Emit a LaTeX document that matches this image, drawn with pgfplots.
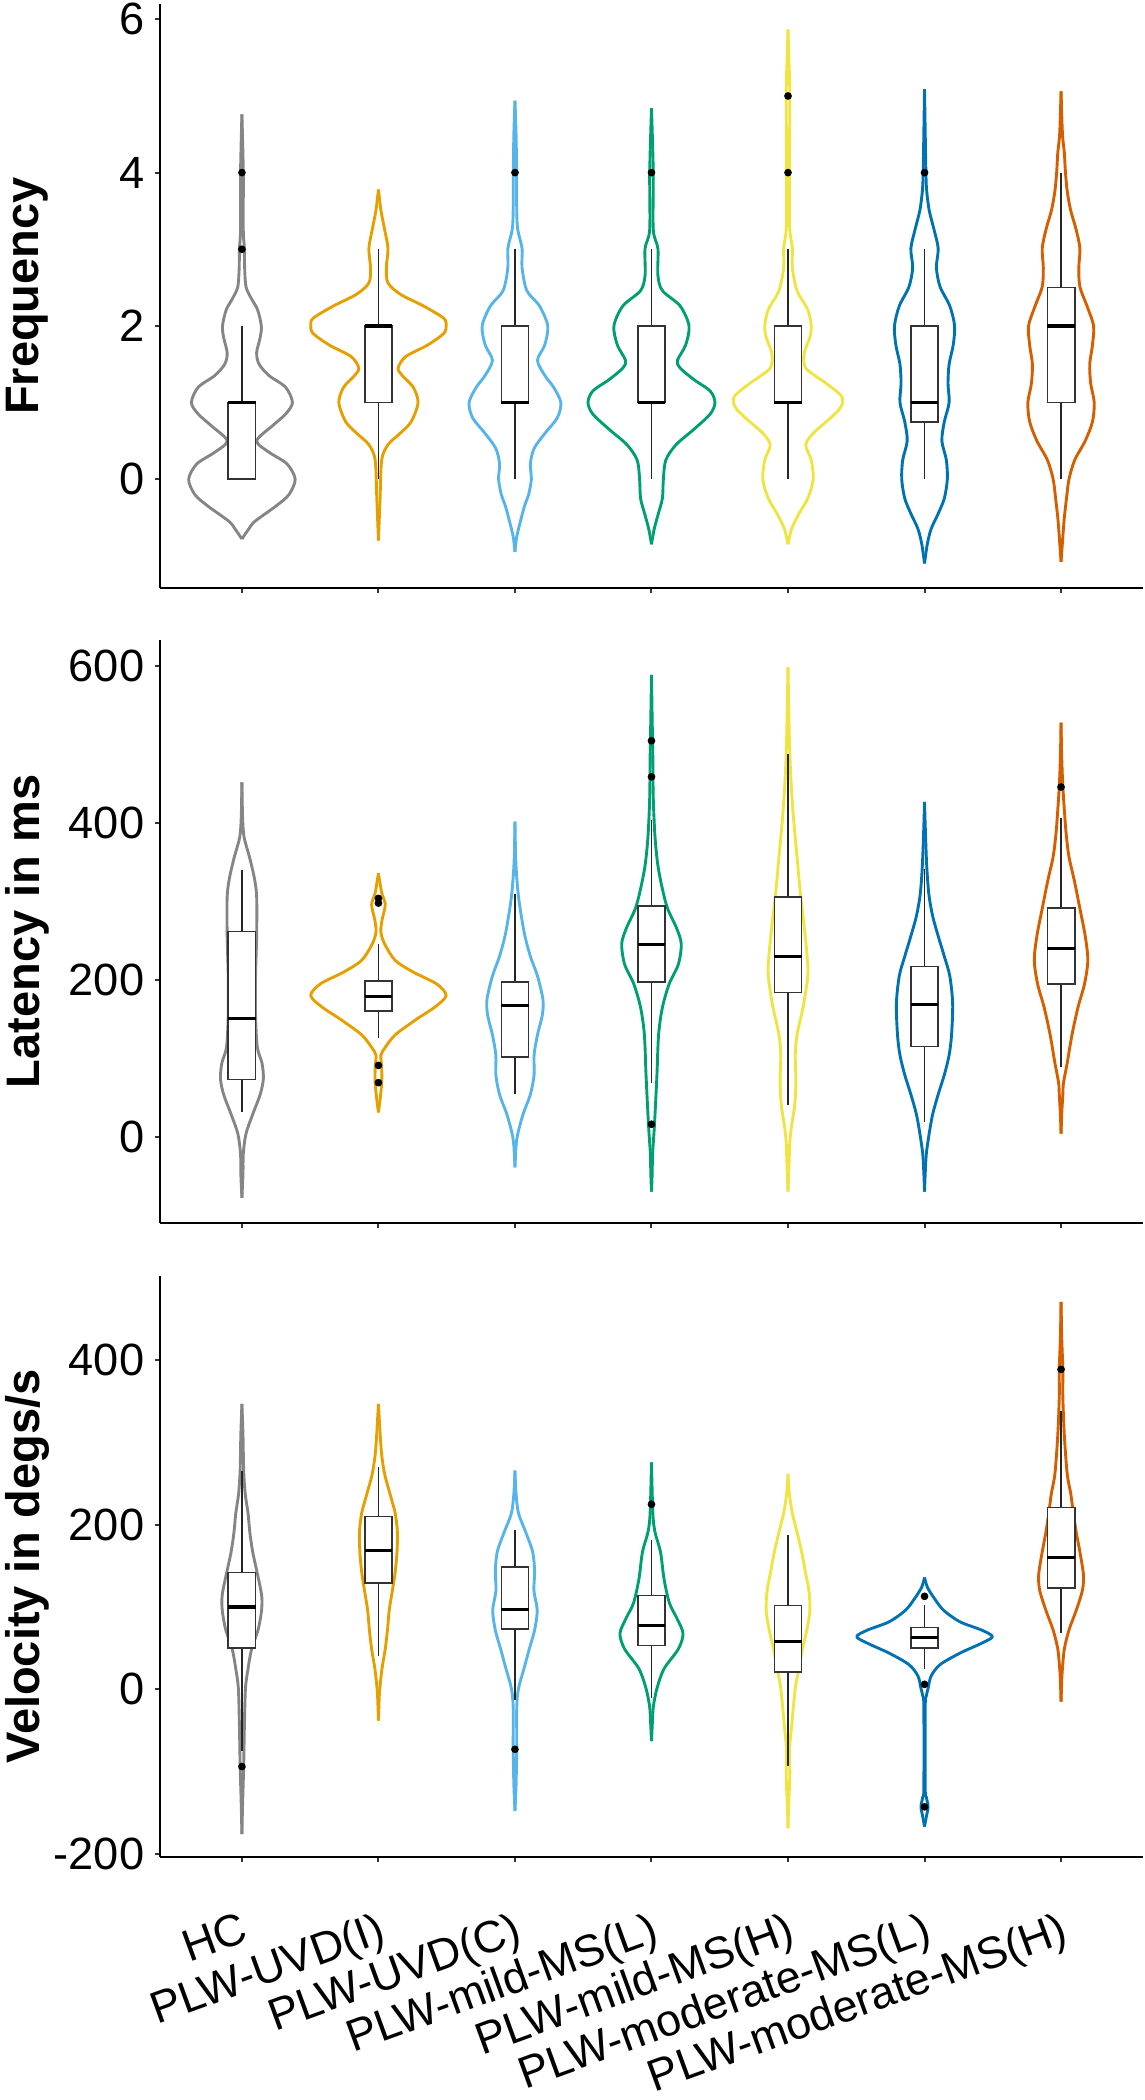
\documentclass[border=0pt]{standalone}
\usepackage{pgfplots}
\pgfplotsset{compat=1.18}
\usepackage{pgfplotstable}
\usepackage{fontspec}
\setmainfont{Liberation Sans}
\definecolor{cHC}{HTML}{858585}
\definecolor{cUI}{HTML}{E69F00}
\definecolor{cUC}{HTML}{56B4E9}
\definecolor{cML}{HTML}{009E73}
\definecolor{cMH}{HTML}{F0E442}
\definecolor{cDL}{HTML}{0072B2}
\definecolor{cDH}{HTML}{D55E00}

% ---------- Panel 1: Frequency (y, half-width) ----------
\pgfplotstableread{
y w
-0.78 0
-0.65 0.05
-0.55 0.095
-0.35 0.25
-0.20 0.345
0.00 0.39
0.20 0.33
0.35 0.20
0.50 0.108
0.70 0.226
0.85 0.32
1.00 0.37
1.20 0.32
1.35 0.20
1.50 0.126
1.65 0.108
1.85 0.134
2.00 0.142
2.21 0.115
2.36 0.068
2.51 0.03
2.76 0.02
3.01 0.018
3.26 0.01
4.01 0.01
4.76 0
}\fHC
\pgfplotstableread{
y w
-0.80 0
-0.25 0.012
0.25 0.024
0.45 0.07
0.60 0.16
0.75 0.24
1.00 0.29
1.20 0.255
1.35 0.176
1.45 0.144
1.60 0.20
1.75 0.36
1.90 0.478
2.00 0.496
2.10 0.478
2.26 0.33
2.41 0.163
2.56 0.07
2.76 0.058
3.01 0.07
3.26 0.045
3.51 0.018
3.78 0
}\fUI
\pgfplotstableread{
y w
-0.95 0
-0.75 0.013
-0.55 0.04
-0.35 0.07
-0.20 0.10
0.00 0.12
0.20 0.113
0.40 0.14
0.60 0.22
0.80 0.31
1.00 0.336
1.20 0.283
1.35 0.22
1.55 0.165
1.75 0.218
2.00 0.24
2.26 0.18
2.46 0.087
2.76 0.052
3.01 0.052
3.26 0.02
3.51 0.013
4.01 0.012
4.51 0.008
4.94 0
}\fUC
\pgfplotstableread{
y w
-0.85 0
-0.65 0.02
-0.45 0.05
-0.25 0.08
0.00 0.087
0.25 0.105
0.45 0.18
0.65 0.31
0.85 0.43
1.00 0.465
1.15 0.43
1.30 0.31
1.45 0.21
1.55 0.19
1.75 0.25
2.00 0.275
2.26 0.21
2.46 0.08
2.66 0.047
3.01 0.047
3.26 0.013
4.01 0.013
4.84 0
}\fML
\pgfplotstableread{
y w
-0.85 0
-0.65 0.026
-0.45 0.08
-0.25 0.145
0.00 0.185
0.25 0.17
0.45 0.13
0.60 0.185
0.75 0.28
0.90 0.37
1.00 0.40
1.10 0.384
1.25 0.28
1.45 0.13
1.65 0.12
1.85 0.16
2.00 0.17
2.21 0.145
2.46 0.066
2.76 0.032
3.01 0.032
3.26 0.013
3.76 0.01
5.01 0.013
5.51 0.006
5.87 0
}\fMH
\pgfplotstableread{
y w
-1.10 0
-0.85 0.02
-0.65 0.048
-0.45 0.10
-0.25 0.145
0.00 0.167
0.25 0.16
0.50 0.127
0.75 0.145
1.00 0.18
1.25 0.172
1.50 0.18
1.75 0.21
2.00 0.22
2.26 0.185
2.51 0.114
2.76 0.087
3.01 0.10
3.26 0.069
3.51 0.034
3.76 0.016
4.01 0.01
5.09 0
}\fDL
\pgfplotstableread{
y w
-1.08 0
-0.75 0.013
-0.50 0.024
-0.25 0.04
0.00 0.058
0.25 0.10
0.50 0.177
0.75 0.23
1.00 0.243
1.25 0.217
1.50 0.21
1.75 0.23
2.00 0.238
2.26 0.19
2.51 0.138
2.76 0.13
3.01 0.138
3.26 0.11
3.51 0.07
3.76 0.045
4.01 0.032
4.26 0.024
4.51 0.01
5.06 0
}\fDH

% ---------- Panel 2: Latency ----------
\pgfplotstableread{
y w
-78 0
-47 0.008
-22 0.01
4 0.03
29 0.08
54 0.134
74 0.157
94 0.147
114 0.113
155 0.10
205 0.10
256 0.108
306 0.108
331 0.09
357 0.055
382 0.016
407 0.005
452 0
}\lHC
\pgfplotstableread{
y w
31 0
49 0.013
69 0.024
89 0.024
104 0.018
114 0.05
130 0.123
150 0.28
165 0.41
180 0.496
195 0.425
210 0.255
225 0.123
246 0.045
261 0.018
276 0.026
296 0.05
311 0.024
336 0
}\lUI
\pgfplotstableread{
y w
-39 0
-12 0.008
4 0.021
29 0.06
54 0.113
79 0.14
104 0.14
130 0.165
155 0.20
175 0.205
205 0.165
230 0.113
256 0.073
281 0.047
306 0.026
331 0.013
357 0.005
402 0
}\lUC
\pgfplotstableread{
y w
-70 0
-47 0.005
-22 0.008
4 0.018
29 0.026
79 0.04
130 0.052
165 0.08
195 0.13
220 0.197
246 0.218
266 0.184
291 0.118
316 0.08
346 0.047
382 0.026
432 0.013
483 0.01
533 0.005
589 0
}\lML
\pgfplotstableread{
y w
-70 0
-47 0.005
-22 0.01
-7 0.013
14 0.026
39 0.048
69 0.058
104 0.053
130 0.066
165 0.11
205 0.145
230 0.14
266 0.12
306 0.093
357 0.066
407 0.04
457 0.021
508 0.01
599 0
}\lMH
\pgfplotstableread{
y w
-70 0
-47 0.005
-22 0.013
4 0.034
29 0.06
54 0.10
79 0.145
104 0.18
130 0.198
170 0.206
205 0.185
230 0.145
256 0.10
281 0.06
306 0.034
331 0.021
357 0.013
397 0.005
427 0
}\lDL
\pgfplotstableread{
y w
4 0
29 0.005
54 0.013
69 0.018
94 0.045
130 0.08
165 0.124
195 0.172
225 0.196
256 0.177
291 0.138
326 0.098
357 0.058
387 0.037
417 0.024
447 0.013
483 0.005
528 0
}\lDH

% ---------- Panel 3: Velocity ----------
\pgfplotstableread{
y w
-176 0
-140 0.005
-93 0.013
-46 0.018
1 0.026
25 0.045
49 0.071
72 0.118
96 0.144
115 0.144
143 0.11
167 0.079
191 0.058
214 0.045
238 0.024
266 0.013
309 0.008
347 0
}\vHC
\pgfplotstableread{
y w
-38 0
-13 0.005
1 0.01
25 0.026
49 0.05
72 0.066
96 0.079
120 0.102
143 0.123
167 0.136
191 0.139
214 0.123
238 0.084
262 0.045
285 0.024
309 0.013
347 0
}\vUI
\pgfplotstableread{
y w
-148 0
-117 0.008
-70 0.013
-22 0.013
1 0.026
25 0.066
49 0.105
72 0.144
96 0.163
120 0.139
143 0.144
167 0.13
191 0.079
214 0.026
238 0.008
266 0
}\vUC
\pgfplotstableread{
y w
-63 0
-46 0.005
-22 0.013
1 0.04
25 0.092
49 0.197
68 0.231
87 0.184
105 0.131
134 0.092
167 0.066
191 0.026
214 0.01
276 0
}\vML
\pgfplotstableread{
y w
-169 0
-140 0.005
-107 0.013
-70 0.013
-46 0.026
1 0.053
25 0.08
49 0.105
72 0.138
96 0.16
120 0.153
143 0.127
167 0.10
191 0.066
214 0.032
238 0.01
262 0
}\vMH
\pgfplotstableread{
y w
-167 0
-155 0.013
-143 0.026
-131 0.013
-120 0.005
-22 0.005
-8 0.013
1 0.026
16 0.048
30 0.114
44 0.26
56 0.418
64 0.497
72 0.418
82 0.26
96 0.14
110 0.074
124 0.021
136 0
}\vDL
\pgfplotstableread{
y w
-15 0
11 0.005
25 0.01
49 0.024
72 0.058
96 0.111
120 0.156
139 0.164
167 0.138
191 0.111
214 0.09
238 0.071
262 0.045
309 0.024
356 0.013
389 0.013
427 0.005
471 0
}\vDH

\newcommand{\violin}[3]{%
  \addplot[#2, vio] table[x expr={#1+\thisrow{w}}, y=y] {#3};
  \addplot[#2, vio] table[x expr={#1-\thisrow{w}}, y=y] {#3};
}
% \bx{left}{centre}{right}{lower whisker}{q1}{median}{q3}{upper whisker}
\newcommand{\bx}[8]{%
  \addplot[wh] coordinates {(#2,#4) (#2,#5)};
  \addplot[wh] coordinates {(#2,#7) (#2,#8)};
  \addplot[bxl] coordinates {(#1,#5) (#3,#5) (#3,#7) (#1,#7)} -- cycle;
  \addplot[med] coordinates {(#1,#6) (#3,#6)};
}

\pgfplotsset{
  vio/.style={line width=0.72pt, smooth, mark=none, line join=round},
  wh/.style={black!85, line width=0.4pt, mark=none},
  bxl/.style={draw=black!80, fill=white, line width=0.4pt, mark=none},
  med/.style={black, line width=0.8pt, mark=none},
  outl/.style={only marks, mark=*, mark size=0.75pt, black},
  panel/.style={
    width=245.75pt, scale only axis, xmin=0.4, xmax=7.6,
    axis lines=left, axis line style={-, line width=0.5pt, black},
    xtick={1,2,3,4,5,6,7}, tick align=outside, major tick length=1.25pt,
    tick style={line width=0.5pt, black!80},
    ylabel style={at={(axis description cs:-0.1353,0.5)}, anchor=center,
      font=\fontsize{11.75}{14}\selectfont\bfseries},
    yticklabel style={font=\fontsize{11.3}{13}\selectfont, anchor=east, inner sep=0pt, xshift=-2.5pt},
    xticklabel style={font=\fontsize{11.2}{13}\selectfont, rotate=20, anchor=north east,
      inner sep=0pt, xshift=-4.5pt, yshift=-11pt},
  }
}

\begin{document}
\begin{tikzpicture}
% ---------------- Frequency ----------------
\begin{axis}[panel, at={(0pt,0pt)}, anchor=north west, height=146pt,
  ymin=-1.42, ymax=6.2, ytick={0,2,4,6}, yticklabels={0,2,4,6},
  xticklabels={}, ylabel={Frequency}]
\violin{1}{cHC}{\fHC}
\violin{2}{cUI}{\fUI}
\violin{3}{cUC}{\fUC}
\violin{4}{cML}{\fML}
\violin{5}{cMH}{\fMH}
\violin{6}{cDL}{\fDL}
\violin{7}{cDH}{\fDH}
\bx{0.9}{1}{1.1}{0}{0}{1}{1}{2}
\bx{1.9}{2}{2.1}{0}{1}{2}{2}{3}
\bx{2.9}{3}{3.1}{0}{1}{1}{2}{3}
\bx{3.9}{4}{4.1}{0}{1}{1}{2}{3}
\bx{4.9}{5}{5.1}{0}{1}{1}{2}{3}
\bx{5.9}{6}{6.1}{0}{0.75}{1}{2}{3}
\bx{6.9}{7}{7.1}{0}{1}{2}{2.5}{4}
\addplot[outl] coordinates {(1,3) (1,4) (3,4) (4,4) (5,4) (5,5) (6,4)};
\end{axis}
% ---------------- Latency ----------------
\begin{axis}[panel, at={(0pt,-159pt)}, anchor=north west, height=145.75pt,
  ymin=-110, ymax=633.5, ytick={0,200,400,600}, yticklabels={0,200,400,600},
  xticklabels={}, ylabel={Latency in ms}]
\violin{1}{cHC}{\lHC}
\violin{2}{cUI}{\lUI}
\violin{3}{cUC}{\lUC}
\violin{4}{cML}{\lML}
\violin{5}{cMH}{\lMH}
\violin{6}{cDL}{\lDL}
\violin{7}{cDH}{\lDH}
\bx{0.9}{1}{1.1}{32}{73}{151}{262}{340}
\bx{1.9}{2}{2.1}{126}{160}{179}{199}{246}
\bx{2.9}{3}{3.1}{54}{102}{167}{197}{310}
\bx{3.9}{4}{4.1}{69}{197}{245}{294}{404}
\bx{4.9}{5}{5.1}{41}{184}{230}{306}{488}
\bx{5.9}{6}{6.1}{19}{115}{169}{217}{341}
\bx{6.9}{7}{7.1}{89}{195}{240}{292}{407}
\addplot[outl] coordinates {(2,69) (2,91) (2,298) (2,304) (4,16) (4,459) (4,505) (7,446)};
\end{axis}
% ---------------- Velocity ----------------
\begin{axis}[panel, at={(0pt,-318pt)}, anchor=north west, height=145.25pt,
  ymin=-204, ymax=502.5, ytick={-200,0,200,400}, yticklabels={-200,0,200,400},
  xticklabels={HC,PLW-UVD(I),PLW-UVD(C),PLW-mild-MS(L),PLW-mild-MS(H),PLW-moderate-MS(L),PLW-moderate-MS(H)},
  ylabel={Velocity in degs/s}]
\violin{1}{cHC}{\vHC}
\violin{2}{cUI}{\vUI}
\violin{3}{cUC}{\vUC}
\violin{4}{cML}{\vML}
\violin{5}{cMH}{\vMH}
\violin{6}{cDL}{\vDL}
\violin{7}{cDH}{\vDH}
\bx{0.9}{1}{1.1}{-75}{50}{100}{142}{266}
\bx{1.9}{2}{2.1}{40}{129}{169}{210}{270}
\bx{2.9}{3}{3.1}{-13}{73}{97}{149}{194}
\bx{3.9}{4}{4.1}{-10}{53}{78}{114}{181}
\bx{4.9}{5}{5.1}{-93}{21}{58}{102}{188}
\bx{5.9}{6}{6.1}{25}{50}{63}{75}{102}
\bx{6.9}{7}{7.1}{68}{123}{160}{221}{338}
\addplot[outl] coordinates {(1,-94) (3,-73) (4,225) (6,113) (6,6) (6,-143) (7,389)};
\end{axis}
\pgfresetboundingbox
\path[use as bounding box] (-40pt,1pt) rectangle (246.25pt,-524pt);
\end{tikzpicture}
\end{document}
